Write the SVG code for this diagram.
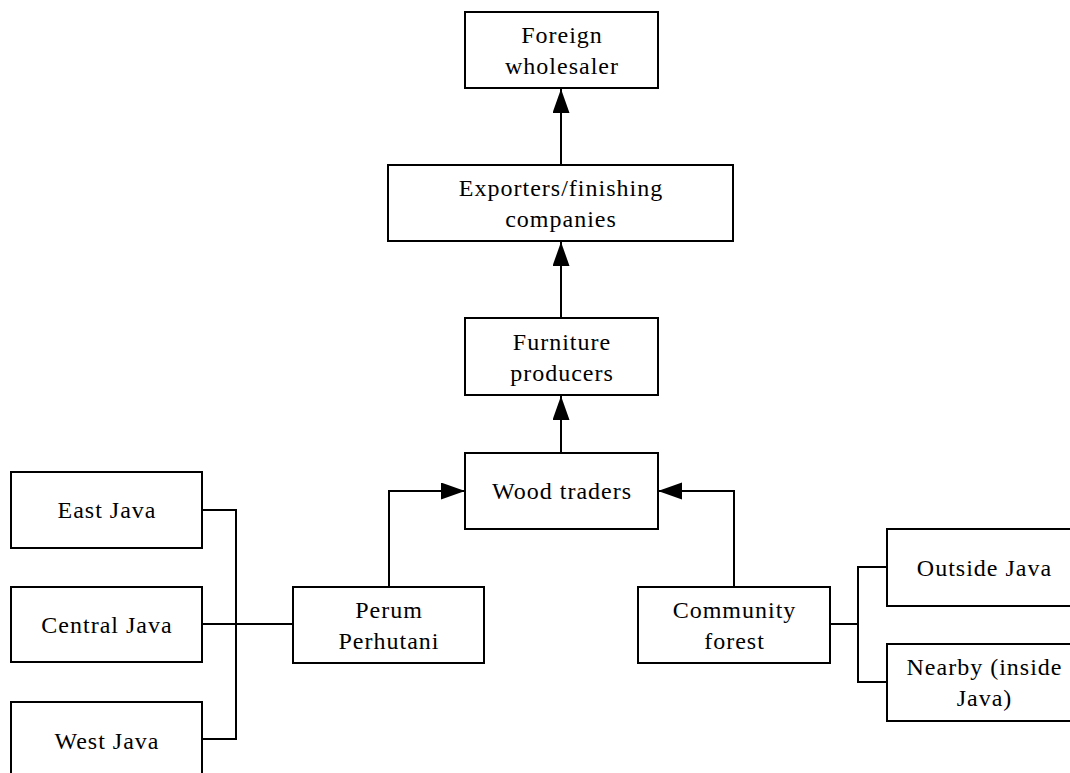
<svg xmlns="http://www.w3.org/2000/svg" width="1070" height="773" viewBox="0 0 1070 773">
<defs>
<style>
.box{fill:#fff;stroke:#000;stroke-width:2}
.lbl{font-family:"Liberation Serif","Times New Roman",serif;font-size:24px;fill:#000;text-anchor:middle;letter-spacing:1px}
.con{fill:none;stroke:#000;stroke-width:2}
</style>
<marker id="arr" markerUnits="userSpaceOnUse" markerWidth="26" markerHeight="18" refX="24" refY="8.5" orient="auto" viewBox="0 0 26 18">
<path d="M0,0 L24,8.5 L0,17 z" fill="#000"/>
</marker>
</defs>
<rect width="1070" height="773" fill="#fff"/>
<g id="connectors">
<path class="con" d="M561,165 V89" marker-end="url(#arr)"/>
<path class="con" d="M561,318 V242" marker-end="url(#arr)"/>
<path class="con" d="M561,453 V396" marker-end="url(#arr)"/>
<path class="con" d="M389,587 V491 H465" marker-end="url(#arr)"/>
<path class="con" d="M734,587 V491 H658" marker-end="url(#arr)"/>
<path class="con" d="M202,510 H236 V739 H202"/>
<path class="con" d="M202,624 H293"/>
<path class="con" d="M830,624 H858"/>
<path class="con" d="M887,567 H858 V682 H887"/>
</g>
<g id="foreign">
<rect class="box" x="465" y="12" width="193" height="76"/>
<text class="lbl" x="562" y="43">Foreign</text>
<text class="lbl" x="562" y="74">wholesaler</text>
</g>
<g id="exporters">
<rect class="box" x="388" y="165" width="345" height="76"/>
<text class="lbl" x="561" y="196">Exporters/finishing</text>
<text class="lbl" x="561" y="227">companies</text>
</g>
<g id="furniture">
<rect class="box" x="465" y="318" width="193" height="77"/>
<text class="lbl" x="562" y="350">Furniture</text>
<text class="lbl" x="562" y="381">producers</text>
</g>
<g id="wood">
<rect class="box" x="465" y="453" width="193" height="76"/>
<text class="lbl" x="562" y="499">Wood traders</text>
</g>
<g id="perum">
<rect class="box" x="293" y="587" width="191" height="76"/>
<text class="lbl" x="389" y="618">Perum</text>
<text class="lbl" x="389" y="649">Perhutani</text>
</g>
<g id="community">
<rect class="box" x="638" y="587" width="192" height="76"/>
<text class="lbl" x="734.5" y="618">Community</text>
<text class="lbl" x="734.5" y="649">forest</text>
</g>
<g id="east">
<rect class="box" x="11" y="472" width="191" height="76"/>
<text class="lbl" x="107" y="518">East Java</text>
</g>
<g id="central">
<rect class="box" x="11" y="587" width="191" height="75"/>
<text class="lbl" x="107" y="633">Central Java</text>
</g>
<g id="west">
<rect class="box" x="11" y="702" width="191" height="78"/>
<text class="lbl" x="107" y="749">West Java</text>
</g>
<g id="outside">
<rect class="box" x="887" y="529" width="194" height="77"/>
<text class="lbl" x="984.5" y="576">Outside Java</text>
</g>
<g id="nearby">
<rect class="box" x="887" y="644" width="194" height="77"/>
<text class="lbl" x="984.5" y="675">Nearby (inside</text>
<text class="lbl" x="984.5" y="706">Java)</text>
</g>
</svg>
